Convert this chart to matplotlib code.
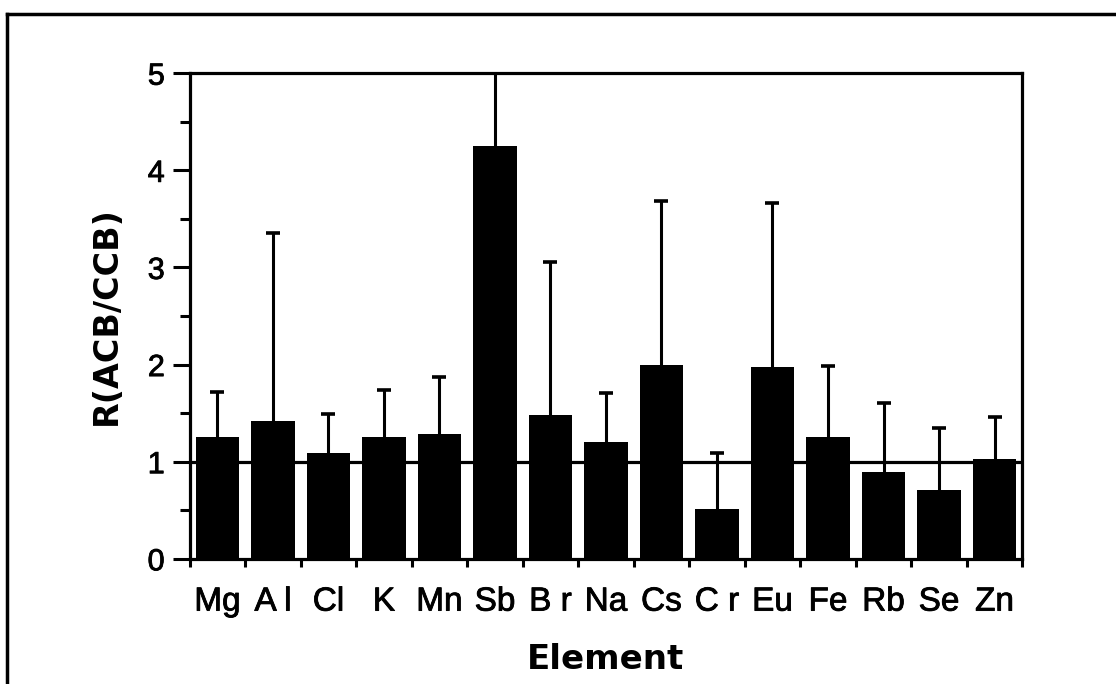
import matplotlib
matplotlib.use('Agg')
import matplotlib.pyplot as plt
import matplotlib.patheffects as pe
from matplotlib.lines import Line2D
from matplotlib.ticker import MultipleLocator
import numpy as np

# Data
elements = ['Mg', 'A l', 'Cl', 'K', 'Mn', 'Sb', 'B r', 'Na', 'Cs', 'C r', 'Eu', 'Fe', 'Rb', 'Se', 'Zn']
ratios = [1.25, 1.42, 1.09, 1.25, 1.29, 4.25, 1.48, 1.20, 2.00, 0.51, 1.97, 1.25, 0.89, 0.71, 1.03]
upper_err = [0.47, 1.93, 0.40, 0.49, 0.58, 1.20, 1.58, 0.51, 1.68, 0.58, 1.69, 0.74, 0.71, 0.64, 0.43]
reference_level = 1.0

def main():
    fig = plt.figure(figsize=(11.16, 6.84), dpi=100)
    ax = fig.add_axes([0.170, 0.183, 0.746, 0.710])

    x = np.arange(len(elements))
    ax.axhline(reference_level, color='black', linewidth=2.3, zorder=1)
    ax.bar(x, ratios, width=0.79, color='black', zorder=2)
    _, caps, _ = ax.errorbar(x, ratios, yerr=[np.zeros(len(upper_err)), upper_err], fmt='none',
                             ecolor='black', elinewidth=2.2, capsize=5, capthick=2.6, zorder=3)
    # only the upper caps are shown
    caps[0].set_visible(False)

    ax.set_xlim(-0.5, len(elements) - 0.5)
    ax.set_ylim(0, 5)

    # y axis: major every 1, minor every 0.5, ticks outward
    ax.yaxis.set_major_locator(MultipleLocator(1))
    ax.yaxis.set_minor_locator(MultipleLocator(0.5))
    ax.tick_params(axis='y', which='major', direction='out', length=12, width=2.2, pad=6,
                   labelsize=22)
    ax.tick_params(axis='y', which='minor', direction='out', length=7, width=2.2)

    # x axis: labels at centres, ticks at category boundaries
    ax.set_xticks(x)
    ax.set_xticklabels(elements, fontsize=24, family='Liberation Sans')
    ax.set_xticks(np.arange(len(elements) + 1) - 0.5, minor=True)
    ax.tick_params(axis='x', which='major', length=0, pad=20)
    ax.tick_params(axis='x', which='minor', direction='out', length=6, width=2.2)

    # slightly heavier text, like the printed original
    heavy = [pe.withStroke(linewidth=0.6, foreground='black')]
    for lbl in ax.get_yticklabels():
        lbl.set_family('Liberation Sans')
        lbl.set_path_effects(heavy)
    for lbl in ax.get_xticklabels():
        lbl.set_path_effects(heavy)

    for spine in ax.spines.values():
        spine.set_linewidth(2.3)

    ax.set_ylabel('R(ACB/CCB)', fontsize=24, fontweight='bold', family='DejaVu Sans', labelpad=18)
    ax.set_xlabel('Element', fontsize=24.5, fontweight='bold', family='DejaVu Sans', labelpad=18)

    # Outer frame (only left and top edges are inside the picture)
    fig.add_artist(Line2D([0.006, 0.006], [0.0, 0.98], transform=fig.transFigure,
                          color='black', linewidth=2.5))
    fig.add_artist(Line2D([0.006, 1.0], [0.98, 0.98], transform=fig.transFigure,
                          color='black', linewidth=2.5))

    fig.savefig('out.png', dpi=100)

if __name__ == '__main__':
    main()
